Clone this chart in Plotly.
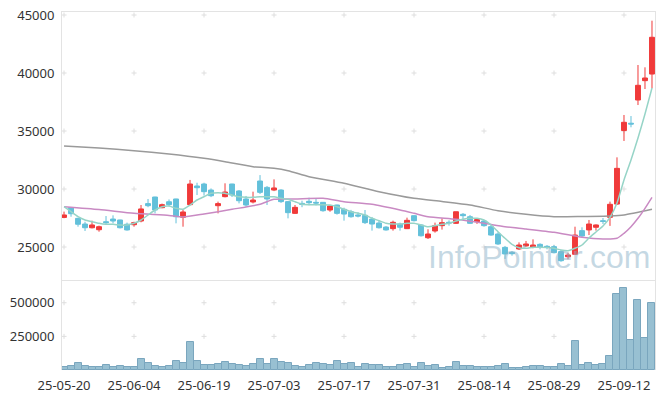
import plotly.graph_objects as go

dates = [
    "25-05-20", "25-05-21", "25-05-22", "25-05-23", "25-05-26", "25-05-27", "25-05-28", "25-05-29", "25-05-30",
    "25-06-02", "25-06-04", "25-06-05", "25-06-09", "25-06-10", "25-06-11", "25-06-12", "25-06-13",
    "25-06-16", "25-06-17", "25-06-18", "25-06-19", "25-06-20", "25-06-23", "25-06-24", "25-06-25",
    "25-06-26", "25-06-27", "25-06-30", "25-07-01", "25-07-02", "25-07-03", "25-07-04", "25-07-07",
    "25-07-08", "25-07-09", "25-07-10", "25-07-11", "25-07-14", "25-07-15", "25-07-16", "25-07-17",
    "25-07-18", "25-07-21", "25-07-22", "25-07-23", "25-07-24", "25-07-25", "25-07-28", "25-07-29",
    "25-07-30", "25-07-31", "25-08-01", "25-08-04", "25-08-05", "25-08-06", "25-08-07", "25-08-08",
    "25-08-11", "25-08-12", "25-08-13", "25-08-14", "25-08-18", "25-08-19", "25-08-20", "25-08-21",
    "25-08-22", "25-08-25", "25-08-26", "25-08-27", "25-08-28", "25-08-29", "25-09-01", "25-09-02",
    "25-09-03", "25-09-04", "25-09-05", "25-09-08", "25-09-09", "25-09-10", "25-09-11", "25-09-12",
    "25-09-15", "25-09-16", "25-09-17", "25-09-18",
]

opens = [27550, 28390, 27470, 26980, 26660, 26490, 27180, 27410, 27330, 26960,
         26920, 27240, 28740, 29310, 28390, 28900, 29140, 27560, 28650, 30260,
         30430, 29910, 28560, 29340, 30430, 29830, 29140, 28880, 30690, 30140,
         29910, 29910, 28910, 27900, 28760, 28940, 28850, 28850, 28190, 28620,
         28250, 28040, 27760, 27730, 27410, 27070, 26720, 26580, 26980, 26580,
         27700, 26900, 25800, 26380, 26840, 27130, 27040, 27820, 27610, 27180,
         27240, 26750, 26120, 24970, 24540, 24830, 25090, 24970, 25230, 25060,
         25030, 24600, 24160, 24370, 26410, 26470, 26700, 27270, 27560, 28700,
         35040, 35670, 37670, 39340, 39910]
highs = [28050, 28420, 27520, 27180, 27270, 26840, 27670, 27730, 27350, 27100,
         27180, 28620, 29140, 29330, 28740, 29100, 29160, 28190, 30780, 30540,
         30540, 30050, 28910, 30490, 30450, 29910, 29400, 29770, 31200, 30260,
         30830, 29980, 28950, 28620, 28990, 29250, 29170, 28870, 28560, 28650,
         28390, 28200, 28000, 28190, 27590, 27330, 26800, 27270, 27100, 27530,
         27730, 26960, 26530, 27100, 27470, 27300, 28040, 27930, 27760, 27470,
         27330, 26960, 26270, 25090, 24650, 25400, 25520, 25660, 25320, 25170,
         25170, 24740, 24510, 26750, 26700, 27330, 26950, 27500, 28910, 32730,
         36380, 36290, 40690, 40490, 44510]
lows = [27480, 27610, 26750, 26380, 26600, 26320, 26900, 27040, 26600, 26410,
        26750, 27130, 28430, 27900, 28340, 28500, 27040, 26750, 28600, 29480,
        29430, 29300, 27900, 29280, 29310, 28760, 28480, 28760, 29570, 28620,
        29850, 28800, 27470, 27850, 28430, 28600, 28590, 28040, 28040, 27790,
        27270, 27530, 27550, 26980, 26410, 26590, 26410, 26410, 26410, 26550,
        27200, 25900, 25690, 26240, 26500, 26840, 26990, 27330, 26990, 26990,
        26750, 25970, 25180, 23970, 24250, 24740, 25030, 24890, 24800, 24800,
        24450, 23730, 23940, 24310, 25800, 26030, 26410, 26980, 26820, 28620,
        34140, 35320, 37240, 38620, 38680]
closes = [27760, 27870, 26960, 26660, 26900, 26750, 27100, 27240, 26660, 26470,
          27100, 28280, 28560, 28190, 28650, 28650, 27610, 28020, 30430, 30110,
          29770, 29420, 28740, 29740, 29480, 28990, 28620, 29050, 29710, 29140,
          30090, 28910, 27960, 28420, 28680, 28820, 28790, 28130, 28530, 27900,
          27840, 27610, 27670, 27100, 26980, 26660, 26470, 27130, 26700, 27300,
          27270, 25970, 26120, 26840, 27100, 27070, 28040, 27700, 27040, 27360,
          26840, 26030, 25260, 24400, 24420, 25170, 25260, 25170, 24970, 25000,
          24510, 23820, 24310, 26030, 25950, 26980, 26900, 27200, 28680, 31780,
          35750, 35600, 38940, 39570, 43080]

volumes = [20000, 27500, 50000, 27500, 20000, 20000, 35000, 20000, 27500, 20000,
           20000, 80000, 50000, 27500, 20000, 27500, 65000, 50000, 207500, 65000,
           35000, 35000, 42500, 57500, 42500, 35000, 27500, 42500, 80000, 42500,
           80000, 57500, 50000, 27500, 20000, 35000, 50000, 42500, 35000, 65000,
           42500, 50000, 20000, 42500, 35000, 35000, 20000, 20000, 35000, 42500,
           20000, 50000, 27500, 35000, 12500, 20000, 57500, 27500, 27500, 20000,
           20000, 20000, 27500, 42500, 12500, 12500, 20000, 27500, 27500, 20000,
           20000, 42500, 27500, 217500, 35000, 50000, 35000, 42500, 102500, 562500,
           612500, 222500, 522500, 237500, 495000]

# moving averages
ma5 = [28474, 28043, 27612, 27327, 27181, 27043, 26957, 26957, 26896, 26896,
       27043, 27327, 27758, 28189, 28474, 28534, 28336, 28250, 28620, 29051,
       29336, 29629, 29681, 29629, 29482, 29336, 29284, 29284, 29336, 29336,
       29336, 29198, 29112, 28905, 28681, 28646, 28646, 28646, 28620, 28474,
       28250, 28043, 27905, 27758, 27474, 27267, 27043, 26983, 26983, 27043,
       27043, 26896, 26750, 26836, 26957, 27043, 27241, 27388, 27474, 27474,
       27327, 26896, 26319, 25750, 25233, 24940, 24888, 24974, 24974, 24960,
       24888, 24741, 24681, 24888, 25172, 25776, 26293, 26810, 27550, 28793,
       30775, 32500, 34396, 36465, 38706]
ma20_idx = [0, 5, 10, 15, 17, 20, 24, 28, 30, 33, 37, 40, 44, 48, 50, 52, 56, 60,
            63, 66, 70, 74, 77, 79, 80, 81, 82, 83, 84]
ma20_val = [28474, 28233, 27905, 27715, 27586, 27845, 28250, 28681, 29112, 29138,
            29198, 28905, 28681, 28189, 27905, 27612, 27388, 27043, 26750, 26552,
            26267, 25836, 25690, 25750, 26181, 26750, 27474, 28336, 29284]
ma60_idx = [0, 5, 10, 15, 20, 23, 27, 30, 32, 35, 40, 45, 50, 54, 58, 62, 66, 70,
            74, 78, 80, 84]
ma60_val = [33706, 33534, 33301, 33017, 32646, 32353, 31922, 31784, 31577, 31060,
            30491, 29767, 29198, 28922, 28620, 28129, 27819, 27612, 27629, 27672,
            27758, 28250]

price_ticks = [25000, 30000, 35000, 40000, 45000]
vol_ticks = [250000, 500000]
xtick_idx = list(range(0, 85, 10))

UP = "#f03a3a"
DOWN = "#63c0da"
AXIS = "#e3e3e3"
TXT = "#333333"
FONT = "Noto Sans"
CROSS = "#dedede"

fig = go.Figure()

fig.add_trace(go.Candlestick(
    x=dates, open=opens, high=highs, low=lows, close=closes,
    xaxis="x", yaxis="y",
    increasing=dict(line=dict(color=UP, width=1), fillcolor=UP),
    decreasing=dict(line=dict(color=DOWN, width=1), fillcolor=DOWN),
    whiskerwidth=0, hoverinfo="skip", showlegend=False))

fig.add_trace(go.Scatter(x=[dates[i] for i in ma60_idx], y=ma60_val, mode="lines",
                         line=dict(color="#9a9a9a", width=1.5, shape="spline", smoothing=0.6),
                         xaxis="x", yaxis="y", hoverinfo="skip", showlegend=False))
fig.add_trace(go.Scatter(x=[dates[i] for i in ma20_idx], y=ma20_val, mode="lines",
                         line=dict(color="#c98ac3", width=1.5, shape="spline", smoothing=0.6),
                         xaxis="x", yaxis="y", hoverinfo="skip", showlegend=False))
fig.add_trace(go.Scatter(x=dates, y=ma5, mode="lines",
                         line=dict(color="#96d4c7", width=1.5, shape="spline", smoothing=0.5),
                         xaxis="x", yaxis="y", hoverinfo="skip", showlegend=False))

fig.add_trace(go.Bar(x=dates, y=volumes, xaxis="x2", yaxis="y2",
                     marker=dict(color="#98c0d2", line=dict(color="#7aa6be", width=1)),
                     hoverinfo="skip", showlegend=False))

# faint "+" grid marks at tick intersections (drawn beneath the data)
def add_cross(xi, yv, yref, dy):
    fig.add_shape(type="line", xref="x", yref=yref, x0=xi - 0.36, x1=xi + 0.36, y0=yv, y1=yv,
                  line=dict(color=CROSS, width=1), layer="below")
    fig.add_shape(type="line", xref="x", yref=yref, x0=xi, x1=xi, y0=yv - dy, y1=yv + dy,
                  line=dict(color=CROSS, width=1), layer="below")

for i in xtick_idx:
    for p in price_ticks:
        add_cross(i, p, "y", 215)
    for v in vol_ticks:
        add_cross(i, v, "y2", 18750)

fig.add_annotation(text="InfoPointer.com", xref="paper", yref="paper", x=0.805, y=0.316,
                   xanchor="center", yanchor="middle", showarrow=False,
                   font=dict(family="Liberation Sans", size=32, color="rgba(140,178,200,0.5)"))

split = 90 / 358
fig.update_layout(
    width=665, height=398,
    margin=dict(l=62, r=10, t=12, b=28, autoexpand=False),
    paper_bgcolor="white", plot_bgcolor="white",
    font=dict(family=FONT, size=13, color=TXT),
    bargap=0, boxgap=0.3, boxgroupgap=0,
    xaxis=dict(domain=[0, 1], type="category", anchor="y", range=[-0.29, 84.43],
               showticklabels=False, showgrid=False, zeroline=False, automargin=False,
               showline=True, mirror=True, linecolor=AXIS, linewidth=1,
               rangeslider=dict(visible=False), categoryorder="array", categoryarray=dates),
    xaxis2=dict(domain=[0, 1], type="category", anchor="y2", matches="x",
                range=[-0.29, 84.43], showgrid=False, zeroline=False, showline=False,
                automargin=False,
                tickmode="array", tickvals=[dates[i] for i in xtick_idx],
                ticktext=[dates[i] for i in xtick_idx], ticks="outside", ticklen=3,
                tickcolor="rgba(0,0,0,0)", tickangle=0,
                categoryorder="array", categoryarray=dates),
    yaxis=dict(domain=[split, 1], anchor="x", range=[22155, 45259], automargin=False,
               tickmode="array", tickvals=price_ticks, ticktext=[str(v) for v in price_ticks],
               showgrid=False, zeroline=False,
               showline=True, mirror=True, linecolor=AXIS, linewidth=1,
               ticks="outside", ticklen=4, tickcolor="rgba(0,0,0,0)"),
    yaxis2=dict(domain=[0, split], anchor="x2", range=[0, 669000], automargin=False,
                tickmode="array", tickvals=vol_ticks, ticktext=[str(v) for v in vol_ticks],
                showgrid=False, zeroline=False,
                showline=True, mirror=True, linecolor=AXIS, linewidth=1,
                ticks="outside", ticklen=4, tickcolor="rgba(0,0,0,0)"),
)

fig.write_html("out.html", config={"displayModeBar": False},
               post_script="document.body.style.margin='0';document.body.style.overflow='hidden';")
